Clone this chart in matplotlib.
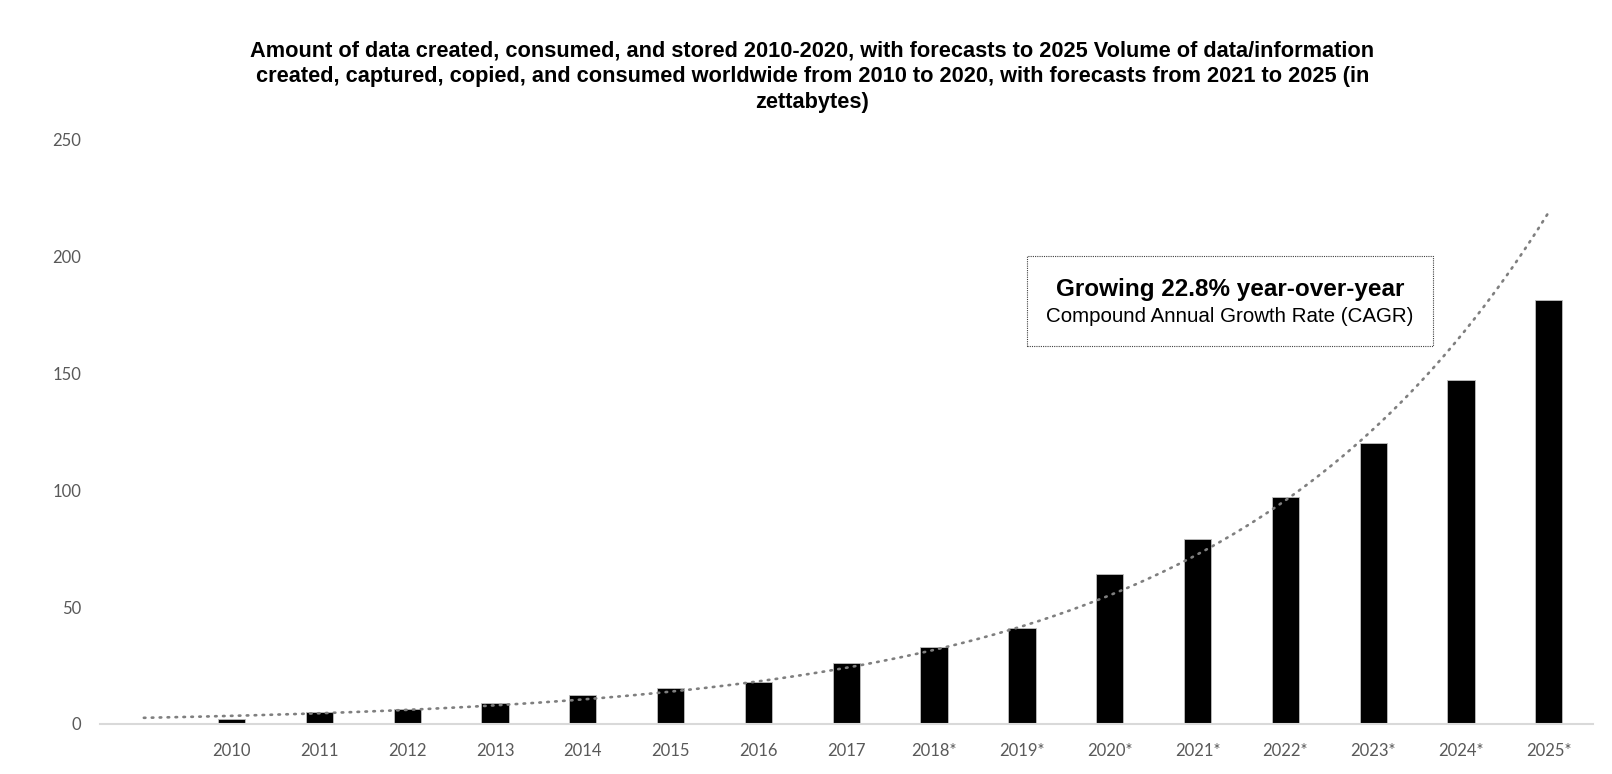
import matplotlib
matplotlib.use('Agg')
import matplotlib.pyplot as plt
import numpy as np

# data (zettabytes)
years = ['2010', '2011', '2012', '2013', '2014', '2015', '2016', '2017',
         '2018*', '2019*', '2020*', '2021*', '2022*', '2023*', '2024*', '2025*']
volume = [2, 5, 6.5, 9, 12.5, 15.5, 18, 26, 33, 41, 64.2, 79, 97, 120, 147, 181]

title = ('Amount of data created, consumed, and stored 2010-2020, with forecasts to 2025 Volume of data/information\n'
         'created, captured, copied, and consumed worldwide from 2010 to 2020, with forecasts from 2021 to 2025 (in\n'
         'zettabytes)')
note_main = 'Growing 22.8% year-over-year'
note_sub = 'Compound Annual Growth Rate (CAGR)'

sans = ['Liberation Sans', 'DejaVu Sans']
tickfont = ['Lato', 'DejaVu Sans']
grey = '#595959'

fig = plt.figure(figsize=(16.12, 7.74), dpi=100)
ax = fig.add_axes([0.062, 0.0646, 0.926, 0.7558])

x = np.arange(len(years))
ax.bar(x, volume, width=0.31, color='black', edgecolor='#bfbfbf', linewidth=0.6, zorder=2)

# exponential trendline (least squares on log), one period backward forecast
coef = np.polyfit(x, np.log(volume), 1)
xt = np.linspace(-1, len(years) - 1, 300)
ax.plot(xt, np.exp(np.polyval(coef, xt)), color='#7f7f7f', lw=1.9,
        linestyle=(0, (0.6, 2.4)), dash_capstyle='round', zorder=3)

ax.set_xlim(-1.5, len(years) - 0.5)
ax.set_ylim(0, 250)
ax.set_xticks(x)
ax.set_xticklabels(years)
ax.set_yticks(np.arange(0, 251, 50))
for lab in ax.get_xticklabels() + ax.get_yticklabels():
    lab.set_family(tickfont)
    lab.set_fontsize(12)
    lab.set_color(grey)
ax.tick_params(axis='both', length=0)
ax.tick_params(axis='y', pad=13.5)
ax.tick_params(axis='x', pad=14)

for s in ['top', 'right', 'left']:
    ax.spines[s].set_visible(False)
ax.spines['bottom'].set_color('#d9d9d9')
ax.spines['bottom'].set_linewidth(1.5)

fig.text(0.504, 0.948, title, ha='center', va='top', fontsize=15.7,
         fontweight='bold', family=sans, linespacing=1.3)

# annotation box
box = plt.Rectangle((9.06, 161.5), 4.62, 38.5, fill=False, edgecolor='#404040',
                    lw=0.8, linestyle=(0, (1, 1)), zorder=4)
ax.add_patch(box)
ax.text(11.37, 185.5, note_main, ha='center', va='center', fontsize=17.5,
        fontweight='bold', family=sans, zorder=5)
ax.text(11.37, 174, note_sub, ha='center', va='center', fontsize=14.8,
        family=sans, zorder=5)

fig.savefig('out.png', dpi=100)
